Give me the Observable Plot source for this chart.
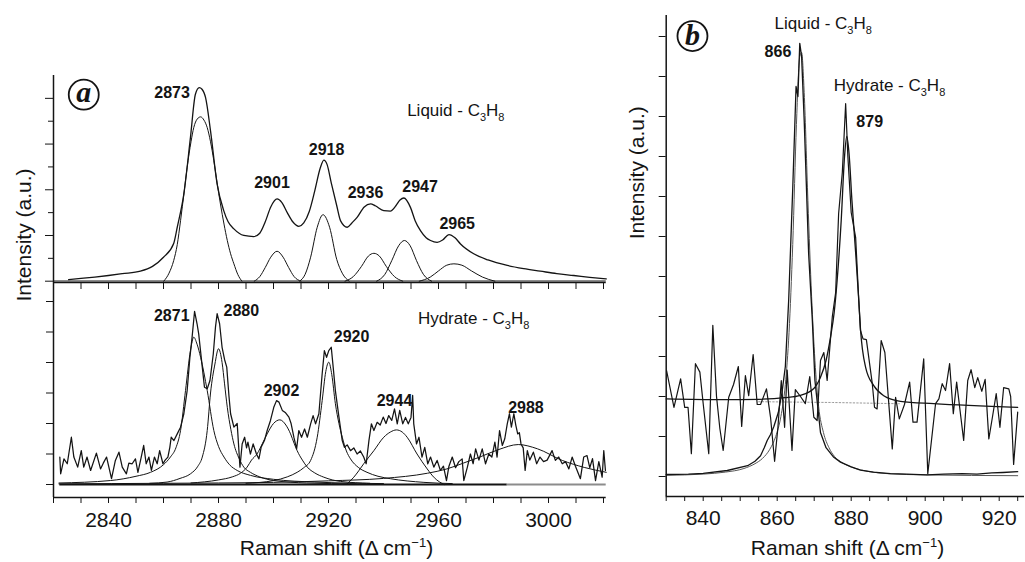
<!DOCTYPE html>
<html><head><meta charset="utf-8">
<script src="https://cdn.jsdelivr.net/npm/d3@7"></script>
<script src="https://cdn.jsdelivr.net/npm/@observablehq/plot@0.6"></script>
<style>
body{margin:0;background:#fff;}
#wrap{position:relative;width:1025px;height:562px;overflow:hidden;background:#fff;}
#wrap svg{position:absolute;overflow:visible;}
</style></head><body><div id="wrap"></div>
<script>
// ---------------- DATA ----------------
// Panel a, top: Liquid C3H8 spectrum (envelope) and fitted components  [Raman shift, intensity]
const liquidSpectrum = [[2825.5,0.07],[2830,0.12],[2835,0.18],[2840,0.25],[2845,0.33],[2851.6,0.44],[2856,0.65],[2860,1.05],[2863.7,1.65],[2865,2.36],[2867.4,3.82],[2869.8,6.29],[2871.6,8.18],[2873,8.47],[2874,8.4],[2875.3,8.03],[2877.1,6.58],[2879.5,4.25],[2881.9,3.09],[2883.5,2.6],[2885.6,2.29],[2889.2,2.0],[2892.8,1.95],[2895,2.1],[2897,2.6],[2899,3.25],[2901.3,3.6],[2903,3.45],[2905,3.0],[2907,2.6],[2909.2,2.4],[2911,2.55],[2913,3.05],[2915,3.95],[2917,4.95],[2918.3,5.3],[2919.5,5.1],[2921,4.3],[2923,3.3],[2924.4,2.64],[2926.8,2.36],[2928.5,2.55],[2930.4,2.79],[2933,3.25],[2935.3,3.38],[2937,3.3],[2940.1,3.09],[2942.5,3.07],[2944.5,3.3],[2946,3.55],[2947.4,3.64],[2949.8,3.23],[2951.5,2.65],[2953.5,2.2],[2955.5,1.9],[2957.1,1.78],[2959.5,1.7],[2961.5,1.8],[2963.8,2.04],[2966,1.9],[2968,1.63],[2972.8,1.2],[2978,0.93],[2985,0.69],[2991,0.55],[2997,0.44],[3003,0.33],[3009.2,0.25],[3015,0.17],[3021,0.1]];
const liqComp2873 = [[2860.1,0],[2862,0.35],[2863.7,0.9],[2865,1.6],[2866.2,2.65],[2867.5,3.9],[2868.6,4.98],[2870,6.1],[2871,6.72],[2872.3,7.1],[2873.5,7.19],[2874.7,7.05],[2875.9,6.72],[2877.1,6.1],[2878.3,5.27],[2879.5,4.3],[2880.7,3.38],[2882,2.5],[2883.2,1.78],[2884.4,1.2],[2885.6,0.76],[2887,0.3],[2888.5,0]];
const liqComp2901 = [[2893,0],[2895,0.2],[2897,0.6],[2899,1.05],[2901.3,1.31],[2903.5,1.05],[2905.5,0.6],[2907.5,0.2],[2910,0]];
const liqComp2918 = [[2909.5,0],[2911.5,0.3],[2913.5,1.05],[2915.9,2.36],[2918,2.91],[2920.4,2.36],[2923,0.95],[2925,0.35],[2927.5,0]];
const liqComp2936 = [[2926,0],[2929,0.2],[2932,0.65],[2934.5,1.1],[2936.5,1.22],[2938.5,1.1],[2941,0.65],[2944,0.2],[2947,0]];
const liqComp2947 = [[2937.5,0],[2940.5,0.3],[2943,0.9],[2945.5,1.55],[2947.6,1.78],[2949.7,1.55],[2952,0.9],[2954.5,0.3],[2957.5,0]];
const liqComp2965 = [[2953,0],[2957,0.18],[2960,0.45],[2963,0.7],[2965.6,0.76],[2968.5,0.7],[2972,0.45],[2976,0.18],[2980.5,0]];
const liqLabels = ["2873","2901","2918","2936","2947","2965"];
const liqLabelAt = [[2863.1,8.01],[2899.45,4.08],[2919.3,5.53],[2933.45,3.64],[2953.3,3.89],[2966.8,2.29]];

// Panel a, bottom: Hydrate C3H8 spectrum and fitted components
const hydrateSpectrum = [[2822.3,0.9],[2822.6,0.35],[2823.8,0.84],[2825,0.68],[2826.5,1.55],[2827.4,0.9],[2828.8,0.57],[2830.1,1.11],[2831,0.57],[2832.2,0.9],[2833.5,0.46],[2835.6,1.03],[2837.1,0.51],[2838.1,0.7],[2839.3,0.9],[2841.1,0.19],[2842.5,0.79],[2843.8,1.06],[2845,0.57],[2846.5,0.35],[2847.4,0.7],[2848.6,0.68],[2849.8,0.84],[2850.7,0.4],[2851.9,0.9],[2852.8,1.28],[2853.7,0.68],[2854.7,0.9],[2855.6,0.46],[2856.7,0.9],[2857.7,0.68],[2858.6,1.11],[2859.8,0.68],[2860.6,0.8],[2861.6,0.9],[2862.3,1.22],[2862.8,1.55],[2863.8,1.44],[2865,1.66],[2866.2,1.88],[2867.4,2.32],[2868.6,3.08],[2869.6,4.17],[2870.4,4.83],[2871.3,5.68],[2872.2,5.27],[2872.8,4.94],[2874.1,3.85],[2874.9,3.19],[2875.9,3.14],[2876.9,3.41],[2878.1,4.28],[2878.9,5.16],[2879.5,5.6],[2880.4,5.27],[2881.3,4.5],[2882.2,4.1],[2883,3.85],[2883.8,2.9],[2884.4,2.32],[2885.6,1.88],[2886.8,2.0],[2887.8,0.57],[2888.6,1.33],[2889.5,1.55],[2890.2,1.2],[2890.7,1.39],[2891.6,1.0],[2892.6,1.33],[2893.8,1.0],[2894.7,0.84],[2895.5,1.22],[2896.7,1.44],[2897.7,1.77],[2898.9,2.1],[2900.1,2.53],[2901.1,2.75],[2902,2.7],[2903.2,2.43],[2904.4,2.35],[2905.6,2.21],[2906.4,2.0],[2907.4,1.55],[2908.4,1.17],[2909.2,1.77],[2910.2,1.55],[2911.3,1.82],[2912.3,1.55],[2913.5,1.99],[2914.4,2.26],[2915.3,1.99],[2916.5,2.32],[2917.7,3.63],[2918.5,4.39],[2919.3,4.17],[2920.1,4.39],[2921,4.5],[2921.7,3.85],[2922.5,3.08],[2923.8,2.21],[2925,1.44],[2925.8,1.22],[2926.8,1.3],[2928,1.11],[2929.2,1.2],[2930.4,1.0],[2931.6,1.1],[2932.8,0.9],[2933.7,0.68],[2934.7,1.44],[2935.6,1.99],[2936.5,1.77],[2937.7,2.04],[2938.8,1.95],[2939.9,2.21],[2940.9,2.0],[2941.9,2.26],[2943,2.1],[2944,2.48],[2945,1.99],[2945.9,2.43],[2947,1.99],[2948,2.2],[2949,1.99],[2950,2.2],[2950.6,2.92],[2951,1.99],[2952,1.33],[2952.9,1.55],[2954,0.9],[2955,1.22],[2956.1,0.68],[2957.1,0.9],[2958.3,0.57],[2959.5,0.79],[2960.7,0.46],[2961.8,0.6],[2962.9,0.13],[2963.8,0.6],[2965,0.9],[2966.2,0.55],[2967.4,0.75],[2968.6,0.84],[2969.2,0.13],[2970.5,0.57],[2971.6,1.0],[2972.6,0.68],[2973.5,1.17],[2974.7,0.8],[2975.9,1.17],[2977.1,0.68],[2978.3,1.0],[2979.4,0.9],[2980.5,1.39],[2981.3,0.9],[2982.2,1.77],[2983.2,1.28],[2984.1,1.5],[2985,1.99],[2985.8,2.32],[2986.5,1.88],[2987.4,2.32],[2988.1,1.95],[2988.8,1.66],[2989.4,1.7],[2990,1.33],[2990.8,1.2],[2991.5,0.46],[2992.3,1.11],[2993.2,0.8],[2994.5,1.06],[2995.7,0.68],[2996.9,0.9],[2998.2,0.75],[2999.5,0.8],[3001.3,1.11],[3002.5,0.79],[3003.7,0.9],[3005,0.68],[3006.2,0.75],[3007.4,0.51],[3008.6,0.9],[3009.8,0.6],[3011.6,0.19],[3012.8,0.9],[3014,0.95],[3015,0.55],[3016,0.85],[3017.1,0.13],[3018.3,0.75],[3019.5,0.24],[3020.1,1.11],[3020.7,0.46]];
const hydComp2871 = [[2822,0.05],[2840.7,0.13],[2850,0.27],[2855.3,0.4],[2860,0.65],[2862.5,0.9],[2864.5,1.2],[2866.2,1.77],[2868,3.08],[2869.8,4.39],[2871,4.83],[2872.2,4.6],[2873.5,4.17],[2875.9,3.08],[2878.3,1.77],[2880,1.25],[2882,0.9],[2884,0.65],[2886.8,0.46],[2891.6,0.3],[2900,0.17],[2915,0.08],[2940,0.03]];
const hydComp2880 = [[2855,0.04],[2861.3,0.08],[2866,0.2],[2869.8,0.35],[2872.5,0.6],[2874.1,0.9],[2875.9,1.77],[2877.1,3.0],[2878.7,3.95],[2880,4.45],[2881.3,4.0],[2882.2,3.3],[2883.2,2.53],[2884.5,1.8],[2885.6,1.33],[2887.5,0.85],[2889.2,0.57],[2891.6,0.4],[2895,0.25],[2900.1,0.13],[2912,0.05],[2930,0.02]];
const hydComp2902 = [[2870,0.05],[2880,0.15],[2885,0.25],[2888,0.37],[2890.4,0.57],[2892,0.8],[2894,1.0],[2896,1.35],[2897.7,1.66],[2900,2.0],[2902.3,2.12],[2904.5,1.95],[2906.2,1.66],[2907.5,1.35],[2908.6,1.11],[2910.5,0.8],[2912.3,0.57],[2915,0.38],[2918.3,0.24],[2924.4,0.1],[2935,0.04]];
const hydComp2920 = [[2890,0.04],[2900.1,0.13],[2905,0.25],[2908.6,0.4],[2911,0.55],[2913.5,0.79],[2915.9,1.55],[2917.7,2.75],[2919,3.7],[2920.1,4.01],[2921.2,3.6],[2922.5,2.65],[2923.8,2.0],[2925,1.55],[2926.5,1.1],[2928,0.84],[2931,0.55],[2934,0.4],[2938,0.27],[2942.5,0.19],[2954.7,0.07],[2965,0.03]];
const hydComp2944 = [[2926.5,0],[2929.2,0.24],[2931,0.45],[2932.8,0.68],[2936.5,1.11],[2940.1,1.55],[2942.5,1.72],[2944.7,1.79],[2946.8,1.72],[2948.6,1.55],[2952.2,1.0],[2955.9,0.51],[2958.5,0.22],[2962,0]];
const hydComp2988 = [[2822,0.02],[2860,0.04],[2880,0.05],[2900,0.07],[2920,0.12],[2940,0.2],[2956,0.37],[2963,0.51],[2969,0.7],[2975,0.9],[2982,1.15],[2989,1.31],[2996,1.17],[3005,0.79],[3013,0.56],[3021,0.4]];
const hydLabels = ["2871","2880","2902","2920","2944","2988"];
const hydLabelAt = [[2863.0,5.35],[2888.3,5.54],[2902.9,2.89],[2928.4,4.67],[2944.0,2.59],[2991.8,2.34]];
const hydBaselineSplit = 2985;

// Panel b: 830-925 region
const bLiquidSpectrum = [[830,0.05],[836,0.06],[840,0.08],[846.5,0.15],[852,0.27],[854,0.38],[855.5,0.52],[856.5,0.72],[857.3,0.9],[858.2,1.05],[859.1,1.25],[860.3,1.6],[861.3,2.1],[862.2,2.75],[863.1,4.4],[864.2,7.2],[865.1,9.75],[865.6,9.5],[866.1,10.83],[866.6,10.5],[867.3,8.9],[868.5,5.57],[869.5,3.9],[870.2,2.4],[871.7,1.1],[873.2,0.72],[875.3,0.48],[877.1,0.36],[880,0.24],[882.5,0.16],[886,0.11],[890.6,0.07],[895,0.06],[900.5,0.04],[905,0.06],[910,0.07],[914,0.06],[918,0.09],[921,0.1],[925,0.12]];
const bLiquidFit = [[830,0.03],[840,0.06],[846,0.11],[851,0.2],[854,0.32],[856,0.45],[858,0.68],[859.6,1.0],[861,1.5],[862.2,2.3],[863.2,3.6],[864.2,5.8],[865.2,8.8],[866.1,10.5],[866.6,10.6],[867.3,9.6],[868.3,6.9],[869.3,4.5],[870.2,2.9],[871.2,1.75],[872.5,1.1],[874,0.72],[875.5,0.5],[877.5,0.35],[880,0.24],[885,0.12],[890,0.07],[900,0.04],[925,0.02]];
const bHydrateSpectrum = [[830.1,2.65],[832.1,1.73],[833.9,2.44],[835,1.73],[835.9,1.73],[836.8,0.57],[837.9,2.82],[839.1,2.61],[840,1.82],[841.5,0.57],[842.6,3.78],[843.6,2.0],[844.5,1.2],[845.4,0.65],[846.9,1.98],[848.2,2.3],[849.5,2.75],[850.4,1.25],[851.4,2.52],[852.3,2.02],[853.5,3.05],[854.6,1.8],[855.5,1.8],[857.1,2.19],[858.2,1.48],[859.3,0.38],[860.2,1.23],[861.1,2.4],[862,1.23],[862.7,2.66],[864,0.65],[864.9,2.17],[866.3,2.0],[867.6,1.82],[868.8,2.5],[869.9,1.48],[870.8,1.4],[871.7,2.9],[872.6,3.1],[873.5,2.4],[874.9,4.0],[875.8,4.6],[876.6,6.57],[877.6,7.6],[878.5,9.32],[879.1,8.0],[880,6.6],[881.2,5.98],[882.05,4.4],[882.5,3.65],[883.2,3.44],[884.1,3.42],[885.7,2.32],[886.3,1.73],[887,1.69],[888.1,3.4],[889.1,3.1],[891.1,0.69],[892,1.98],[893,1.44],[894.4,1.8],[895.8,2.36],[896.7,1.36],[897.8,1.36],[899.6,2.94],[900.7,0.07],[902.8,1.82],[903.7,1.94],[904.6,2.32],[905.5,2.15],[906.6,2.82],[907.6,1.57],[908.5,2.36],[910.4,0.9],[911.5,2.4],[912.4,2.67],[913.4,2.22],[914.2,2.47],[915.3,2.13],[916.2,2.43],[917.2,0.94],[918.2,1.5],[919.2,2.07],[920.2,1.23],[921.2,2.22],[922.6,2.19],[923.1,2.0],[923.9,0.3],[925,1.61]];
const bHydrateFit = [[830,1.94],[845,1.92],[855,1.93],[862,1.97],[866.3,2.03],[869.9,2.2],[871.7,2.48],[873.2,2.9],[874.4,3.48],[875.4,4.1],[876.2,4.9],[877.3,6.4],[878.2,8.0],[878.8,8.5],[879.4,8.1],[880.2,6.9],[881.2,5.6],[882.05,4.4],[882.5,3.7],[883.9,2.73],[886.1,2.27],[888.8,2.02],[893.3,1.88],[902.3,1.82],[925,1.73]];
const bHydrateBase = [[855,1.87],[875,1.85],[893,1.82]];
const bLabels = ["866","879"];
const bLabelAt = [[860.2,10.5],[885.0,8.73]];

// Axis ticks and texts
const aMinorTicks = [2820,2830,2840,2850,2860,2870,2880,2890,2900,2910,2920,2930,2940,2950,2960,2970,2980,2990,3000,3010,3020];
const aTickLabels = [2840,2880,2920,2960,3000];
const aTopYTicksLong = [0,2,4,6,8];
const aTopYTicksShort = [1,3,5,7];
const aLowYTicks = [0,1,2,3,4,5,6];
const bMinorTicks = [830,835,840,845,850,855,860,865,870,875,880,885,890,895,900,905,910,915,920,925];
const bTickLabels = [840,860,880,900,920];
const bYTicks = [0,1,2,3,4,5,6,7,8,9,10,11];
const xTitle = "Raman shift (Δ cm-1)";
const yTitle = "Intensity (a.u.)";
const liquidTitle = "Liquid - C3H8";
const hydrateTitle = "Hydrate - C3H8";

// ---------------- DRAWING ----------------
const FONT = '"Liberation Sans", Arial, Helvetica, sans-serif';
const INK = "#141414";
const xy = {x: d => d[0], y: d => d[1]};
const wrap = document.getElementById("wrap");
const style = {background: "transparent", fontFamily: FONT, color: INK, overflow: "visible"};
const noText = () => "";

function place(svg, left, top) {
  svg.style.left = left + "px"; svg.style.top = top + "px";
  wrap.appendChild(svg);
}
function rich(svg) {
  const NS = "http://www.w3.org/2000/svg";
  const build = (t, parts) => {
    t.textContent = "";
    for (const [s, size, dy] of parts) {
      const ts = document.createElementNS(NS, "tspan");
      ts.textContent = s;
      if (size) ts.setAttribute("font-size", size);
      if (dy) ts.setAttribute("dy", dy);
      t.appendChild(ts);
    }
  };
  svg.querySelectorAll("text").forEach(t => {
    const s = t.textContent;
    if (s === liquidTitle || s === hydrateTitle) {
      build(t, [[s.slice(0, -4) + "C", null, 0], ["3", 11, 5], ["H", 17, -5], ["8", 11, 5]]);
    } else if (s === xTitle) {
      build(t, [["Raman shift (Δ cm", null, 0], ["−1", 13, -8], [")", 21, 8]]);
    }
  });
}
const line = (data, w) => Plot.line(data, {...xy, stroke: INK, strokeWidth: w, curve: "monotone-x"});
const rawLine = (data, w) => Plot.line(data, {...xy, stroke: INK, strokeWidth: w});

// ---- Panel a, top (liquid)
const xDomA = [2820, 3020.98];
const yDomTop = [-0.057, 9];
const topPlot = Plot.plot({
  width: 620, height: 232, marginLeft: 53, marginRight: 14.3, marginTop: 15, marginBottom: 10,
  x: {domain: xDomA}, y: {domain: yDomTop}, style,
  marks: [
    Plot.ruleY([0], {x1: xDomA[0], x2: liquidSpectrum[liquidSpectrum.length - 1][0], stroke: "#8c8c8c", strokeWidth: 2.5}),
    ...[liqComp2873, liqComp2901, liqComp2918, liqComp2936, liqComp2947, liqComp2965].map(c => line(c, 1)),
    line(liquidSpectrum, 1.3),
    Plot.ruleX([xDomA[0]], {y1: yDomTop[0], y2: yDomTop[1], stroke: INK, strokeWidth: 1.5}),
    Plot.ruleY([yDomTop[0]], {stroke: INK, strokeWidth: 1.6}),
    Plot.axisX({ticks: aMinorTicks, tickSize: 7, tickFormat: noText, label: null}),
    Plot.axisY({ticks: aTopYTicksLong, tickSize: 8, tickFormat: noText, label: null}),
    Plot.axisY({ticks: aTopYTicksShort, tickSize: 5, tickFormat: noText, label: null}),
    Plot.text(liqLabels, {x: (d, i) => liqLabelAt[i][0], y: (d, i) => liqLabelAt[i][1], text: d => d, lineAnchor: "bottom", fontSize: 16, fontWeight: "bold"}),
    Plot.text([liquidTitle], {x: 2948.6, y: 7.24, text: d => d, textAnchor: "start", lineAnchor: "bottom", fontSize: 17}),
    Plot.dot([[2831.0, 8.16]], {...xy, r: 15, stroke: INK, strokeWidth: 1.8, fill: "white"}),
    Plot.text(["a"], {x: 2831.0, y: 8.16, text: d => d, fontFamily: '"Liberation Serif", "DejaVu Serif", serif', fontWeight: "bold", fontStyle: "italic", fontSize: 30, dy: -2})
  ]
});
rich(topPlot);
place(topPlot, 0, 60);

// ---- Panel a, bottom (hydrate)
const yDomLow = [-0.426, 6.623];
const lowPlot = Plot.plot({
  width: 620, height: 282, marginLeft: 53, marginRight: 14.3, marginTop: 2, marginBottom: 65,
  x: {domain: xDomA}, y: {domain: yDomLow}, style,
  marks: [
    Plot.ruleY([0], {x1: hydrateSpectrum[0][0], x2: hydBaselineSplit, stroke: INK, strokeWidth: 2}),
    Plot.ruleY([0], {x1: hydBaselineSplit, x2: xDomA[1], stroke: "#8c8c8c", strokeWidth: 2}),
    ...[hydComp2871, hydComp2880, hydComp2902, hydComp2920, hydComp2944, hydComp2988].map(c => line(c, 1)),
    rawLine(hydrateSpectrum, 1.25),
    Plot.ruleX([xDomA[0]], {y1: yDomLow[0], y2: yDomLow[1], stroke: INK, strokeWidth: 1.5}),
    Plot.ruleY([yDomLow[0]], {stroke: INK, strokeWidth: 1.6}),
    Plot.axisX({ticks: aMinorTicks, tickSize: 6, tickFormat: noText, label: null}),
    Plot.axisX({ticks: aTickLabels, tickSize: 0, tickPadding: 15, tickFormat: "d", fontSize: 21, label: null}),
    Plot.axisY({ticks: aLowYTicks, tickSize: 7, tickFormat: noText, label: null}),
    Plot.text(hydLabels, {x: (d, i) => hydLabelAt[i][0], y: (d, i) => hydLabelAt[i][1], text: d => d, lineAnchor: "bottom", fontSize: 16, fontWeight: "bold"}),
    Plot.text([hydrateTitle], {x: 2952.5, y: 5.27, text: d => d, textAnchor: "start", lineAnchor: "bottom", fontSize: 17}),
    Plot.text([xTitle], {x: 2922.9, frameAnchor: "bottom", dy: 57, lineAnchor: "bottom", text: d => d, fontSize: 21}),
    Plot.text([yTitle], {y: 6.0, frameAnchor: "left", dx: -29.5, rotate: -90, text: d => d, fontSize: 21})
  ]
});
rich(lowPlot);
place(lowPlot, 0, 280);

// ---- Panel b
const xDomB = [830, 926.84];
const yDomB = [-0.5, 11.525];
const bPlot = Plot.plot({
  width: 405, height: 562, marginLeft: 45.7, marginRight: 1, marginTop: 15, marginBottom: 66,
  x: {domain: xDomB}, y: {domain: yDomB}, style,
  marks: [
    Plot.line(bHydrateBase, {...xy, stroke: "#9a9a9a", strokeWidth: 1, strokeDasharray: "1.5,2"}),
    Plot.line(bLiquidFit, {...xy, stroke: "#555", strokeWidth: 1, curve: "monotone-x"}),
    rawLine(bLiquidSpectrum, 1.3),
    line(bHydrateFit, 1.3),
    rawLine(bHydrateSpectrum, 1.2),
    Plot.ruleX([xDomB[0]], {y1: yDomB[0], y2: yDomB[1], stroke: INK, strokeWidth: 1.5}),
    Plot.ruleY([yDomB[0]], {stroke: INK, strokeWidth: 1.6}),
    Plot.axisX({ticks: bMinorTicks, tickSize: 5, tickFormat: noText, label: null}),
    Plot.axisX({ticks: bTickLabels, tickSize: 0, tickPadding: 14, tickFormat: "d", fontSize: 21, label: null}),
    Plot.axisY({ticks: bYTicks, tickSize: 7, tickFormat: noText, label: null}),
    Plot.text(bLabels, {x: (d, i) => bLabelAt[i][0], y: (d, i) => bLabelAt[i][1], text: d => d, lineAnchor: "bottom", fontSize: 16, fontWeight: "bold"}),
    Plot.text([liquidTitle], {x: 859.3, y: 11.19, text: d => d, textAnchor: "start", lineAnchor: "bottom", fontSize: 17}),
    Plot.text([hydrateTitle], {x: 875.3, y: 9.63, text: d => d, textAnchor: "start", lineAnchor: "bottom", fontSize: 17}),
    Plot.dot([[837.1, 11.01]], {...xy, r: 15, stroke: INK, strokeWidth: 1.8, fill: "white"}),
    Plot.text(["b"], {x: 837.1, y: 11.01, text: d => d, fontFamily: '"Liberation Serif", "DejaVu Serif", serif', fontWeight: "bold", fontStyle: "italic", fontSize: 30, dy: -1}),
    Plot.text([xTitle], {x: 879.0, frameAnchor: "bottom", dy: 58, lineAnchor: "bottom", text: d => d, fontSize: 21}),
    Plot.text([yTitle], {y: 5.93, frameAnchor: "left", dx: -28.7, rotate: -90, text: d => d, fontSize: 21})
  ]
});
rich(bPlot);
place(bPlot, 620, 0);
</script>
</body></html>
